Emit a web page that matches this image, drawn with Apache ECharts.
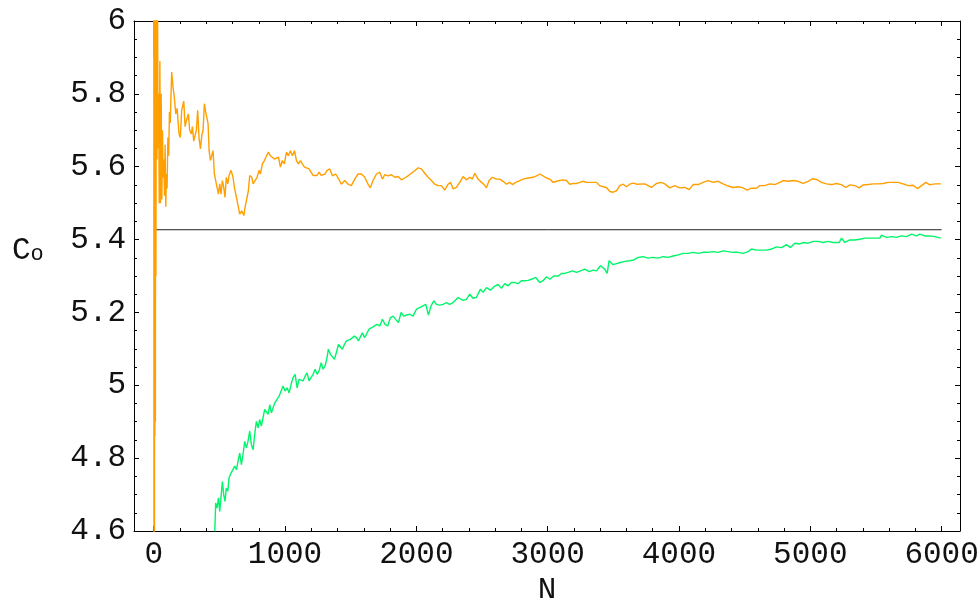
<!DOCTYPE html>
<html>
<head>
<meta charset="utf-8">
<script src="https://cdn.jsdelivr.net/npm/echarts@6/dist/echarts.min.js"></script>
<style>
html, body { margin: 0; padding: 0; background: #fff; }
#chart { width: 980px; height: 598px; }
</style>
</head>
<body>
<div id="chart"></div>
<script>
// tick values
var xMajor = [0, 1000, 2000, 3000, 4000, 5000, 6000]
var xMinor = [200, 400, 600, 800, 1200, 1400, 1600, 1800, 2200, 2400, 2600, 2800,
  3200, 3400, 3600, 3800, 4200, 4400, 4600, 4800, 5200, 5400, 5600, 5800]
var yMajor = [4.6, 4.8, 5, 5.2, 5.4, 5.6, 5.8, 6]
var yMinor = [4.65, 4.7, 4.75, 4.85, 4.9, 4.95, 5.05, 5.1, 5.15, 5.25, 5.3, 5.35,
  5.45, 5.5, 5.55, 5.65, 5.7, 5.75, 5.85, 5.9, 5.95]

// reference level
var refLine = [[0, 5.427], [6000, 5.427]]

// orange estimate [N, C0]
var orange = [
  [0, 5.90], [1, 6.30], [2, 4.40], [3, 5.95], [4, 4.86], [5, 6.20], [6, 4.40], [7, 5.70],
  [9, 4.86], [11, 6.20], [13, 4.90], [15, 6.10], [17, 5.30], [21, 6.20],
  [25, 5.62], [29, 6.10], [33, 5.65], [38, 5.80], [42, 5.50], [47, 5.89], [52, 5.50], [57, 5.80],
  [62, 5.51], [67, 5.70], [72, 5.57], [77, 5.62], [82, 5.52], [87, 5.66], [92, 5.49], [97, 5.58],
  [102, 5.54], [108, 5.68], [114, 5.63], [120, 5.75], [126, 5.72], [132, 5.80], [137, 5.86],
  [147, 5.82], [157, 5.79], [168, 5.745], [178, 5.76], [193, 5.69], [203, 5.68], [213, 5.755],
  [229, 5.78], [239, 5.71], [249, 5.727], [264, 5.745], [274, 5.70], [287, 5.69], [295, 5.71],
  [305, 5.67], [315, 5.686], [325, 5.70], [335, 5.755], [345, 5.68], [356, 5.649], [366, 5.686],
  [376, 5.70], [386, 5.773], [396, 5.75], [406, 5.755], [414, 5.718], [422, 5.644], [432, 5.617],
  [442, 5.63], [452, 5.644], [462, 5.58], [472, 5.562], [482, 5.544], [493, 5.525], [503, 5.553],
  [513, 5.525], [523, 5.562], [533, 5.544], [543, 5.516], [553, 5.571], [564, 5.553], [574, 5.576],
  [589, 5.59], [604, 5.571], [614, 5.544], [625, 5.525], [635, 5.507], [645, 5.489], [655, 5.47],
  [670, 5.479], [686, 5.466], [696, 5.489], [706, 5.507], [721, 5.534], [731, 5.576], [747, 5.571],
  [757, 5.553], [772, 5.562], [787, 5.571], [802, 5.59], [812, 5.58], [828, 5.608], [843, 5.617],
  [858, 5.621], [873, 5.64], [889, 5.63], [904, 5.635], [919, 5.621], [934, 5.626], [950, 5.626],
  [965, 5.599], [980, 5.617], [995, 5.608], [1011, 5.64], [1026, 5.63], [1041, 5.644], [1056, 5.63],
  [1072, 5.644], [1087, 5.617], [1102, 5.608], [1117, 5.617], [1132, 5.608], [1148, 5.599],
  [1163, 5.594], [1183, 5.594], [1198, 5.585], [1214, 5.576], [1229, 5.58], [1244, 5.576],
  [1259, 5.585], [1275, 5.576], [1290, 5.576], [1305, 5.58], [1320, 5.59],
  [1340, 5.594], [1361, 5.575], [1386, 5.58], [1404, 5.569], [1429, 5.552], [1455, 5.562],
  [1480, 5.552], [1505, 5.548], [1531, 5.566], [1556, 5.58], [1582, 5.58], [1607, 5.571],
  [1632, 5.552], [1650, 5.542], [1670, 5.562], [1696, 5.58], [1721, 5.585], [1742, 5.566],
  [1759, 5.578], [1785, 5.575], [1810, 5.578], [1836, 5.571], [1861, 5.573], [1886, 5.564],
  [1912, 5.569], [1937, 5.575], [1962, 5.582], [1988, 5.589], [2013, 5.597], [2039, 5.594],
  [2064, 5.582], [2089, 5.571], [2115, 5.562], [2140, 5.552], [2166, 5.548], [2191, 5.548],
  [2216, 5.536], [2242, 5.552], [2260, 5.557], [2280, 5.539], [2305, 5.543], [2331, 5.557],
  [2356, 5.573], [2381, 5.564], [2407, 5.571], [2427, 5.566], [2445, 5.582], [2470, 5.566],
  [2496, 5.557], [2513, 5.552], [2534, 5.542], [2554, 5.562], [2579, 5.571], [2610, 5.566],
  [2635, 5.566], [2661, 5.56], [2686, 5.552], [2711, 5.557], [2732, 5.551], [2757, 5.557],
  [2788, 5.562], [2813, 5.566], [2851, 5.569], [2889, 5.571], [2915, 5.575], [2940, 5.58],
  [2965, 5.575], [2991, 5.569], [3016, 5.566], [3042, 5.557], [3067, 5.56], [3092, 5.562],
  [3118, 5.564], [3143, 5.562], [3168, 5.552], [3194, 5.554], [3219, 5.554], [3245, 5.557],
  [3270, 5.56], [3295, 5.557], [3321, 5.557], [3346, 5.557], [3372, 5.557], [3397, 5.548],
  [3422, 5.545], [3448, 5.543], [3473, 5.532], [3498, 5.53], [3524, 5.534], [3549, 5.548],
  [3575, 5.552], [3600, 5.545], [3625, 5.552], [3651, 5.555], [3676, 5.552],
  [3740, 5.553], [3790, 5.543], [3828, 5.554], [3866, 5.557], [3892, 5.553], [3930, 5.542],
  [3968, 5.548], [4006, 5.542], [4044, 5.543], [4077, 5.537], [4108, 5.551], [4146, 5.551],
  [4184, 5.557], [4222, 5.562], [4260, 5.557], [4298, 5.56], [4336, 5.553], [4374, 5.547],
  [4412, 5.543], [4450, 5.545], [4488, 5.542], [4519, 5.536], [4552, 5.541], [4590, 5.541],
  [4616, 5.548], [4653, 5.548], [4692, 5.553], [4730, 5.551], [4768, 5.557], [4793, 5.562],
  [4831, 5.56], [4869, 5.562], [4907, 5.56], [4945, 5.554], [4984, 5.56], [5017, 5.567],
  [5047, 5.565], [5085, 5.557], [5123, 5.553], [5161, 5.551], [5199, 5.554], [5237, 5.551],
  [5270, 5.543], [5301, 5.55], [5339, 5.548], [5372, 5.542], [5403, 5.55], [5441, 5.551],
  [5479, 5.553], [5517, 5.553], [5555, 5.554], [5593, 5.557], [5631, 5.557], [5669, 5.557],
  [5707, 5.553], [5745, 5.548], [5783, 5.549], [5816, 5.54], [5847, 5.548], [5880, 5.557],
  [5910, 5.55], [5948, 5.553], [5994, 5.553]
]

// green estimate [N, C0]
var green = [
  [465, 4.599], [472, 4.677], [482, 4.663], [493, 4.691], [503, 4.654], [513, 4.695], [523, 4.736],
  [533, 4.70], [543, 4.681], [553, 4.718], [564, 4.709], [574, 4.746], [589, 4.759], [604, 4.755],
  [617, 4.778], [630, 4.768], [642, 4.791], [655, 4.814], [668, 4.782], [680, 4.81], [693, 4.846],
  [706, 4.828], [718, 4.846], [731, 4.874], [744, 4.837], [757, 4.823], [769, 4.865], [782, 4.901],
  [795, 4.883], [807, 4.906], [820, 4.888], [833, 4.892], [845, 4.934], [858, 4.938], [871, 4.92],
  [884, 4.947], [896, 4.924], [909, 4.938], [922, 4.952], [939, 4.961], [955, 4.97], [970, 4.966],
  [985, 4.998], [1000, 4.984], [1016, 4.993], [1031, 4.979], [1046, 5.002], [1061, 5.021],
  [1077, 5.03], [1092, 4.993], [1107, 5.016], [1122, 5.016], [1137, 5.012], [1153, 5.025],
  [1168, 5.034], [1183, 5.012], [1198, 5.021], [1214, 5.03], [1229, 5.044], [1244, 5.03],
  [1259, 5.039], [1275, 5.062], [1290, 5.044], [1305, 5.053], [1320, 5.076], [1330, 5.099],
  [1346, 5.085], [1361, 5.08], [1376, 5.071], [1391, 5.09], [1407, 5.112], [1422, 5.117],
  [1437, 5.099], [1452, 5.112], [1468, 5.122], [1483, 5.117], [1498, 5.126], [1513, 5.131],
  [1528, 5.135], [1544, 5.131], [1559, 5.122], [1574, 5.117], [1589, 5.144], [1605, 5.131],
  [1620, 5.14], [1640, 5.154], [1660, 5.158], [1681, 5.163], [1701, 5.167], [1721, 5.163],
  [1742, 5.181], [1762, 5.167], [1782, 5.163], [1803, 5.186], [1823, 5.19], [1843, 5.181],
  [1864, 5.172], [1884, 5.2], [1904, 5.19], [1925, 5.193], [1950, 5.195], [1975, 5.19],
  [2001, 5.209], [2026, 5.213], [2051, 5.218], [2072, 5.222], [2092, 5.193], [2112, 5.218],
  [2133, 5.232], [2153, 5.222], [2178, 5.22], [2204, 5.222], [2229, 5.227], [2254, 5.222],
  [2280, 5.227], [2318, 5.241], [2356, 5.233], [2381, 5.236], [2407, 5.25], [2432, 5.239],
  [2457, 5.241], [2488, 5.264], [2508, 5.255], [2534, 5.268], [2564, 5.261], [2589, 5.27],
  [2622, 5.277], [2648, 5.266], [2673, 5.279], [2699, 5.273], [2724, 5.282], [2749, 5.282],
  [2775, 5.279], [2800, 5.287], [2826, 5.287], [2851, 5.288], [2876, 5.291], [2909, 5.296],
  [2940, 5.282], [2965, 5.287], [2991, 5.298], [3016, 5.291], [3047, 5.3], [3080, 5.3],
  [3105, 5.307], [3130, 5.307], [3156, 5.31], [3189, 5.314], [3219, 5.31], [3250, 5.314],
  [3283, 5.319], [3316, 5.312], [3346, 5.316], [3372, 5.314], [3402, 5.328], [3435, 5.319],
  [3453, 5.307], [3468, 5.342], [3498, 5.331], [3524, 5.334], [3554, 5.337], [3587, 5.34],
  [3625, 5.342], [3656, 5.344], [3689, 5.351], [3727, 5.353], [3765, 5.349], [3803, 5.351],
  [3841, 5.349], [3879, 5.353], [3917, 5.351], [3955, 5.355], [3994, 5.358], [4032, 5.362],
  [4070, 5.362], [4108, 5.365], [4146, 5.362], [4184, 5.365], [4222, 5.365], [4260, 5.367],
  [4298, 5.365], [4336, 5.369], [4374, 5.367], [4412, 5.365], [4450, 5.365], [4488, 5.362],
  [4527, 5.367], [4552, 5.374], [4590, 5.371], [4628, 5.371], [4666, 5.371], [4704, 5.374],
  [4742, 5.38], [4781, 5.378], [4819, 5.386], [4849, 5.378], [4882, 5.39], [4920, 5.388],
  [4951, 5.392], [4984, 5.39], [5022, 5.395], [5060, 5.395], [5098, 5.392], [5136, 5.395],
  [5174, 5.392], [5220, 5.392], [5238, 5.404], [5263, 5.392], [5301, 5.399], [5339, 5.399],
  [5377, 5.401], [5415, 5.404], [5453, 5.404], [5491, 5.404], [5530, 5.404], [5542, 5.412],
  [5580, 5.406], [5618, 5.408], [5656, 5.406], [5694, 5.41], [5732, 5.408], [5771, 5.415],
  [5809, 5.41], [5834, 5.415], [5872, 5.41], [5910, 5.41], [5948, 5.408], [5994, 5.404]
]

var fontFam = 'Liberation Mono'
var xMin = -150, xMax = 6140
var yMin = 4.6, yMax = 6

// plain number labels, no thousands separator
function plain(v) {
  return String(Math.round(v * 1000) / 1000)
}

function xAx(pos, ticks, len, withLine, withLabel) {
  return {
    type: 'value', position: pos, min: xMin, max: xMax,
    axisLine: { show: withLine, onZero: false, lineStyle: { color: '#000', width: 1 } },
    axisTick: { show: true, inside: true, length: len, customValues: ticks, lineStyle: { color: '#000' } },
    axisLabel: withLabel ? {
      customValues: ticks, formatter: plain, fontFamily: fontFam, fontSize: 31, color: '#111', margin: 8,
      alignMinLabel: 'center', alignMaxLabel: 'center'
    } : { show: false },
    splitLine: { show: false }
  }
}
function yAx(pos, ticks, len, withLine, withLabel) {
  return {
    type: 'value', position: pos, min: yMin, max: yMax,
    axisLine: { show: withLine, onZero: false, lineStyle: { color: '#000', width: 1 } },
    axisTick: { show: true, inside: true, length: len, customValues: ticks, lineStyle: { color: '#000' } },
    axisLabel: withLabel ? {
      customValues: ticks, formatter: plain, fontFamily: fontFam, fontSize: 31, color: '#111', margin: 8,
      verticalAlign: 'middle', verticalAlignMinLabel: 'middle', verticalAlignMaxLabel: 'middle'
    } : { show: false },
    splitLine: { show: false }
  }
}

var xBottom = xAx('bottom', xMajor, 5, true, true)
xBottom.name = 'N'
xBottom.nameLocation = 'middle'
xBottom.nameGap = 40
xBottom.nameTextStyle = { fontFamily: fontFam, fontSize: 31, color: '#111' }

var myChart = echarts.init(document.getElementById('chart'), null, { renderer: 'canvas' })
myChart.setOption({
  animation: false,
  backgroundColor: '#fff',
  grid: { left: 134, right: 20, top: 21, bottom: 67, containLabel: false, outerBoundsMode: 'none' },
  xAxis: [
    xBottom,
    xAx('bottom', xMinor, 3, false, false),
    xAx('top', xMajor, 5, true, false),
    xAx('top', xMinor, 3, false, false)
  ],
  yAxis: [
    yAx('left', yMajor, 5, true, true),
    yAx('left', yMinor, 3, false, false),
    yAx('right', yMajor, 5, true, false),
    yAx('right', yMinor, 3, false, false)
  ],
  graphic: [{
    type: 'text', left: 12, top: 235,
    style: {
      text: '{c|C}{o|o}',
      rich: {
        c: { fontFamily: fontFam, fontSize: 31, fill: '#111' },
        o: { fontFamily: fontFam, fontSize: 22, fill: '#111', padding: [8, 0, 0, 0] }
      }
    }
  }],
  series: [{
    name: 'ref', type: 'line', data: refLine, showSymbol: false,
    lineStyle: { color: '#222', width: 1 }
  }, {
    name: 'orange', type: 'line', data: orange, showSymbol: false, clip: true,
    lineStyle: { color: '#ff9f00', width: 1.4 }
  }, {
    name: 'green', type: 'line', data: green, showSymbol: false, clip: true,
    lineStyle: { color: '#00f56a', width: 1.4 }
  }]
})
</script>
</body>
</html>
